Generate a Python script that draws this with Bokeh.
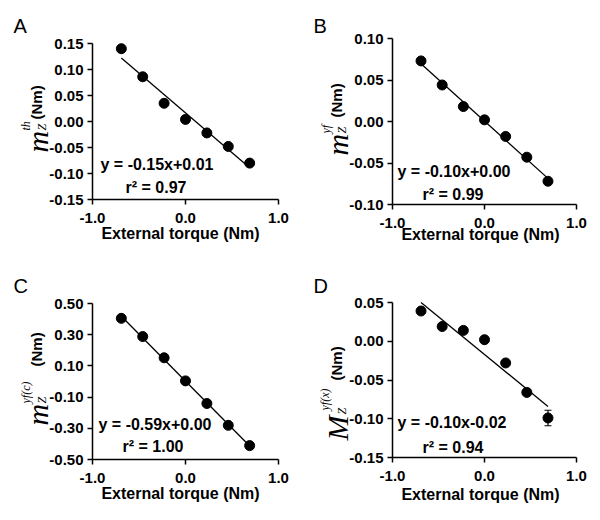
import numpy as np
from bokeh.plotting import figure
from bokeh.models import Range1d, FixedTicker, NumeralTickFormatter, Label, ColumnDataSource, Whisker, TeeHead
from bokeh.layouts import gridplot
from bokeh.embed import file_html
from bokeh.resources import INLINE

# ---------------- data ----------------
torque = [-0.69, -0.46, -0.23, 0.0, 0.23, 0.46, 0.69]
m_th = [0.140, 0.086, 0.035, 0.004, -0.022, -0.048, -0.080]
m_yf = [0.073, 0.044, 0.018, 0.002, -0.018, -0.043, -0.072]
m_yf_c = [0.405, 0.288, 0.152, 0.004, -0.141, -0.281, -0.411]
M_yf_x = [0.039, 0.019, 0.014, 0.002, -0.028, -0.066, -0.099]
M_yf_x_err = [0.002, 0.002, 0.002, 0.002, 0.003, 0.004, 0.010]

x_ticks = [-1.0, 0.0, 1.0]
yticks_A = [-0.15, -0.10, -0.05, 0.0, 0.05, 0.10, 0.15]
yticks_B = [-0.10, -0.05, 0.0, 0.05, 0.10]
yticks_C = [-0.50, -0.30, -0.10, 0.10, 0.30, 0.50]
yticks_D = [-0.15, -0.10, -0.05, 0.0, 0.05]

eq_texts = ["y = -0.15x+0.01", "y = -0.10x+0.00", "y = -0.59x+0.00", "y = -0.10x-0.02"]
r2_texts = ["r² = 0.97", "r² = 0.99", "r² = 1.00", "r² = 0.94"]
letters = ["A", "B", "C", "D"]
x_title = "External torque (Nm)"

SANS = "Liberation Sans"
SERIF = "Liberation Serif"
W, H = 300, 260


class Frame:
    """pixel <-> data mapping of one panel (pixel positions local to the figure)."""
    def __init__(self, L, R, T, B, ylim):
        self.L, self.R, self.T, self.B = L, R, T, B
        self.y0, self.y1 = ylim

    def x(self, px):
        return -1 + (px - self.L) * 2.0 / (self.R - self.L)

    def y(self, py):
        return self.y1 - (py - self.T) * (self.y1 - self.y0) / (self.B - self.T)


def lab(p, fr, text, px, py, size, font=SANS, style="bold", angle=0.0,
        align="left", baseline="alphabetic"):
    p.add_layout(Label(x=fr.x(px), y=fr.y(py), text=text, text_font=font,
                       text_font_style=style, text_font_size=f"{size}px",
                       text_color="black", text_align=align,
                       text_baseline=baseline, angle=angle))


def panel(letter, ys, yticks, ylim, eq, r2, geom, ylab, err=None):
    L, R, T, B, (eqx, eqy, r2x, r2y), title_y = geom
    fr = Frame(L, R, T, B, ylim)
    p = figure(width=W, height=H,
               x_range=Range1d(fr.x(0), fr.x(W)), y_range=Range1d(fr.y(H), fr.y(0)),
               output_backend="svg", toolbar_location=None,
               min_border=0, min_border_left=0, min_border_right=0,
               min_border_top=0, min_border_bottom=0)
    p.outline_line_color = None
    p.xgrid.visible = False
    p.ygrid.visible = False
    p.background_fill_color = "white"
    p.border_fill_color = "white"

    for ax in (p.xaxis[0], p.yaxis[0]):
        ax.axis_line_width = 1.5
        ax.axis_line_color = "black"
        ax.major_tick_line_width = 1.5
        ax.major_tick_line_color = "black"
        ax.major_tick_out = 5
        ax.major_tick_in = 0
        ax.minor_tick_line_color = None
        ax.major_label_text_font = SANS
        ax.major_label_text_font_style = "bold"
        ax.major_label_text_font_size = "15px"
        ax.major_label_text_color = "black"

    p.xaxis.ticker = FixedTicker(ticks=x_ticks)
    p.xaxis.formatter = NumeralTickFormatter(format="0.0")
    p.xaxis.major_label_standoff = 8
    p.xaxis.fixed_location = ylim[0]
    p.xaxis.bounds = (-1, 1)

    p.yaxis.ticker = FixedTicker(ticks=yticks)
    p.yaxis.formatter = NumeralTickFormatter(format="0.00")
    p.yaxis.major_label_standoff = 4
    p.yaxis.fixed_location = -1
    p.yaxis.bounds = ylim

    # regression line from data
    k, b = np.polyfit(torque, ys, 1)
    xs = [min(torque), max(torque)]
    p.line(xs, [k * xs[0] + b, k * xs[1] + b], line_color="black", line_width=1.3)

    if err is not None:
        src = ColumnDataSource(dict(x=torque,
                                    lo=[v - e for v, e in zip(ys, err)],
                                    hi=[v + e for v, e in zip(ys, err)]))
        p.add_layout(Whisker(source=src, base="x", lower="lo", upper="hi",
                             line_color="black", line_width=1.2,
                             upper_head=TeeHead(size=7, line_color="black", line_width=1.2),
                             lower_head=TeeHead(size=7, line_color="black", line_width=1.2)))

    p.scatter(torque, ys, size=10, marker="circle", fill_color="black", line_color="black")

    # equation and r^2
    lab(p, fr, eq, eqx, eqy, 16, baseline="middle")
    lab(p, fr, r2, r2x, r2y, 16, baseline="middle")

    # x-axis title
    lab(p, fr, x_title, 180, title_y, 16, align="center", baseline="middle")

    # panel letter
    lab(p, fr, letter, 13, 25, 20, style="normal")

    # y-axis label pieces (rotated, reading upwards)
    for text, px, py, size, font, style in ylab:
        lab(p, fr, text, px, py, size, font=font, style=style, angle=np.pi / 2)
    return p


# geometry (figure-local pixels): frame L, R, T, B; text anchors; title y
gA = (92, 278, 43, 199, (100, 164, 125, 186.5), 233)
gB = (92, 276, 38, 204, (97, 171, 122, 193.5), 233.5)
gC = (92, 278, 43, 199, (98, 164, 122, 185.5), 233)
gD = (92, 276, 42, 197, (97, 161.5, 122, 186.5), 233.5)

# (text, baseline x, bottom y, size, font, style)
ylabA = [("m", 36.5, 152, 30, SERIF, "italic"),
         ("Z", 41, 130, 12, SERIF, "italic"),
         ("th", 25, 130, 12, SERIF, "italic"),
         ("(Nm)", 35.5, 119, 15, SANS, "bold")]
ylabB = [("m", 37, 155, 30, SERIF, "italic"),
         ("Z", 41.5, 133, 12, SERIF, "italic"),
         ("yf", 25.5, 133, 12, SERIF, "italic"),
         ("(Nm)", 36, 117, 15, SANS, "bold")]
ylabC = [("m", 36.5, 165, 30, SERIF, "italic"),
         ("Z", 41, 143, 12, SERIF, "italic"),
         ("yf(c)", 25, 143, 12, SERIF, "italic"),
         ("(Nm)", 35.5, 106, 15, SANS, "bold")]
ylabD = [("M", 37, 180, 30, SERIF, "italic"),
         ("Z", 41.5, 154, 12, SERIF, "italic"),
         ("yf(x)", 24, 150, 12, SERIF, "italic"),
         ("(Nm)", 36, 120, 15, SANS, "bold")]

pa = panel("A", m_th, yticks_A, (-0.15, 0.15), eq_texts[0], r2_texts[0], gA, ylabA)
pb = panel("B", m_yf, yticks_B, (-0.10, 0.10), eq_texts[1], r2_texts[1], gB, ylabB)
pc = panel("C", m_yf_c, yticks_C, (-0.50, 0.50), eq_texts[2], r2_texts[2], gC, ylabC)
pd = panel("D", M_yf_x, yticks_D, (-0.15, 0.05), eq_texts[3], r2_texts[3], gD, ylabD, err=M_yf_x_err)

grid = gridplot([[pa, pb], [pc, pd]], toolbar_location=None)
open("out.html", "w").write(file_html(grid, INLINE))
